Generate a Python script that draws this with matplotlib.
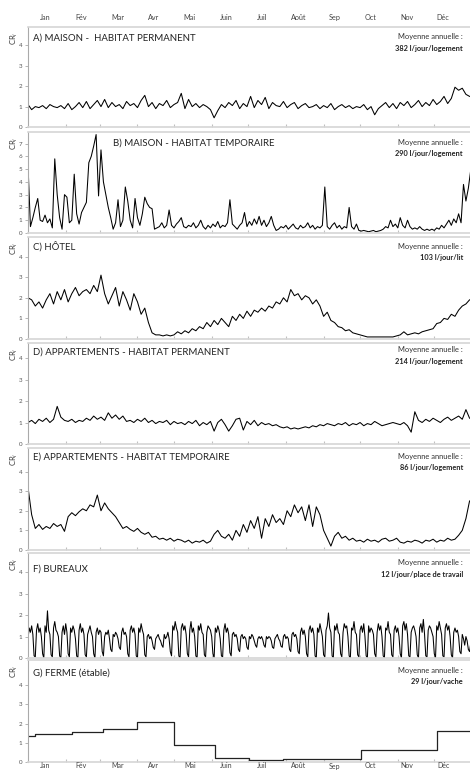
import numpy as np
import matplotlib
matplotlib.use('Agg')
import matplotlib.pyplot as plt

plt.rcParams['font.family'] = ['Lato', 'DejaVu Sans']

months = ['Jan', 'Fév', 'Mar', 'Avr', 'Mai', 'Juin', 'Juil', 'Août', 'Sep', 'Oct', 'Nov', 'Déc']
month_starts = [31, 59, 90, 120, 151, 181, 212, 243, 273, 304, 334]

titles = ['A) MAISON -  HABITAT PERMANENT', 'B) MAISON - HABITAT TEMPORAIRE', 'C) HÔTEL',
          'D) APPARTEMENTS - HABITAT PERMANENT', 'E) APPARTEMENTS - HABITAT TEMPORAIRE',
          'F) BUREAUX', 'G) FERME (étable)']
moyennes = ['382 l/jour/logement', '290 l/jour/logement', '103 l/jour/lit', '214 l/jour/logement',
            '86 l/jour/logement', '12 l/jour/place de travail', '29 l/jour/vache']

# A) maison permanent - une valeur tous les 3 jours
cr_maison_perm = [
    1.1, 0.85, 1.0, 0.95, 1.05, 0.9, 1.1, 1.0, 0.95, 1.05,
    0.9, 1.15, 0.85, 1.0, 1.2, 0.95, 1.25, 0.9, 1.1, 1.3,
    1.0, 1.35, 0.95, 1.2, 1.0, 1.1, 0.9, 1.25, 1.05, 1.15,
    0.95, 1.3, 1.55, 1.0, 1.2, 0.9, 1.15, 1.05, 1.3, 0.95,
    1.1, 1.2, 1.65, 0.9, 1.35, 1.0, 1.15, 0.95, 1.1, 1.0,
    0.85, 0.45, 0.8, 1.1, 0.95, 1.2, 1.05, 1.3, 0.9, 1.15,
    1.0, 1.5, 0.95, 1.3, 1.1, 1.45, 0.9, 1.2, 1.05, 1.0,
    1.25, 0.95, 1.1, 1.2, 0.9, 1.05, 1.15, 0.95, 1.0, 1.1,
    0.9, 1.05, 0.95, 1.15, 0.85, 1.0, 1.1, 0.95, 1.05, 0.9,
    1.0, 0.95, 1.1, 0.85, 1.0, 0.6, 0.9, 1.05, 1.2, 0.95,
    1.15, 0.9, 1.2, 1.05, 1.25, 0.95, 1.1, 1.3, 1.0, 1.2,
    1.05, 1.35, 1.1, 1.25, 1.5, 1.15, 1.4, 1.95, 1.8, 1.9,
    1.6, 1.5]

# B) maison temporaire - une valeur tous les 2 jours
cr_maison_temp = [
    5.3, 0.5, 1.2, 2.0, 2.7, 1.0, 0.9, 1.4, 0.8, 1.1,
    0.4, 5.8, 3.0, 1.2, 0.3, 3.0, 2.8, 0.8, 1.0, 4.6,
    1.5, 0.7, 1.6, 2.0, 2.4, 5.5, 6.0, 6.8, 7.7, 2.9,
    6.5, 4.0, 3.0, 2.0, 1.2, 0.3, 0.8, 2.6, 0.5, 1.0,
    3.6, 2.5, 1.0, 0.4, 2.7, 1.2, 0.6, 1.5, 2.8, 2.3,
    2.0, 1.9, 0.3, 0.4,
    0.5, 0.8, 0.4, 0.6, 1.8, 0.6, 0.4, 0.7, 0.9, 1.2,
    0.5, 0.4, 0.6, 0.5, 0.8, 0.4, 0.6, 1.0, 0.5, 0.3,
    0.6, 0.4, 0.7, 0.5, 0.9, 0.4, 0.6, 0.5, 0.8, 2.6,
    0.7, 0.5, 0.3, 0.6, 0.8, 1.6, 0.5, 0.9, 0.6, 1.1,
    0.7, 1.3, 0.6, 1.0, 0.5, 0.8, 1.3, 0.6, 0.2, 0.3,
    0.5, 0.4, 0.6, 0.3, 0.5, 0.7, 0.4, 0.3, 0.6, 0.4,
    0.5, 0.8, 0.4, 0.6, 0.3, 0.5, 0.4, 0.6, 3.6, 0.5,
    0.3, 0.6, 0.8, 0.4, 0.6, 0.3, 0.5, 0.4, 2.0, 0.5,
    0.3, 0.7, 0.2, 0.15, 0.2, 0.15, 0.1, 0.15, 0.2, 0.1,
    0.15, 0.2, 0.3, 0.5, 0.4, 1.0, 0.5, 0.7, 0.4, 1.2,
    0.6, 0.4, 1.0, 0.5, 0.3, 0.4, 0.3, 0.5, 0.3, 0.2,
    0.3, 0.2, 0.3, 0.2, 0.4, 0.3, 0.6, 0.4, 0.7, 1.0,
    0.6, 1.1, 0.8, 1.5, 0.8, 3.8, 2.5, 3.5, 5.0, 6.0]

# C) hôtel - tous les 3 jours
cr_hotel = [
    2.0, 1.9, 1.6, 1.8, 1.5, 1.9, 2.2, 1.7, 2.3, 1.9,
    2.4, 1.8, 2.2, 2.5, 2.1, 2.3, 2.4, 2.2, 2.6, 2.3,
    3.1, 2.2, 1.7, 2.1, 2.5, 1.6, 2.3, 1.9, 1.4, 2.2,
    1.8, 1.2, 1.5, 0.8, 0.3, 0.2, 0.2, 0.15, 0.2, 0.15,
    0.2, 0.35, 0.25, 0.4, 0.3, 0.5, 0.4, 0.6, 0.5, 0.8,
    0.6, 0.9, 0.7, 1.0, 0.8, 0.6, 1.1, 0.9, 1.2, 1.0,
    1.35, 1.1, 1.4, 1.3, 1.5, 1.35, 1.6, 1.5, 1.8, 1.7,
    2.0, 1.8, 2.4, 2.1, 2.2, 1.9, 2.1, 2.0, 1.7, 1.9,
    1.6, 1.1, 1.3, 0.9, 0.8, 0.6, 0.55, 0.4, 0.45, 0.3,
    0.25, 0.2, 0.15, 0.1, 0.1, 0.1, 0.1, 0.1, 0.1, 0.1,
    0.1, 0.15, 0.2, 0.35, 0.2, 0.25, 0.3, 0.25, 0.35, 0.4,
    0.45, 0.5, 0.75, 0.8, 1.0, 0.95, 1.2, 1.1, 1.4, 1.6,
    1.7, 1.9]

# D) appartements permanent - tous les 3 jours
cr_appart_perm = [
    1.0, 1.1, 0.95, 1.15, 1.05, 1.2, 1.0, 1.15, 1.75, 1.25,
    1.1, 1.05, 1.15, 1.0, 1.1, 1.05, 1.2, 1.1, 1.3, 1.15,
    1.25, 1.1, 1.45, 1.2, 1.35, 1.15, 1.3, 1.05, 1.1, 1.0,
    1.15, 1.05, 1.2, 1.0, 1.1, 0.95, 1.05, 1.0, 1.1, 0.9,
    1.05, 0.95, 1.0, 0.9, 1.05, 0.95, 1.1, 0.85, 1.0, 0.9,
    1.05, 0.6, 1.0, 1.15, 0.9, 0.6, 0.85, 1.15, 1.2, 0.65,
    1.05, 0.9, 1.1, 0.85, 1.0, 0.9, 0.95, 0.85, 0.9, 0.8,
    0.75, 0.8, 0.7, 0.75, 0.7, 0.75, 0.8, 0.75, 0.85, 0.8,
    0.9, 0.85, 0.95, 0.9, 0.85, 0.95, 0.9, 1.0, 0.85, 0.95,
    0.9, 1.0, 0.85, 0.95, 0.9, 1.05, 0.95, 0.85, 0.9, 0.95,
    1.0, 0.95, 0.9, 1.0, 0.85, 0.55, 1.5, 1.1, 1.0, 1.15,
    1.05, 1.2, 1.1, 1.0, 1.15, 1.25, 1.1, 1.2, 1.3, 1.15,
    1.6, 1.2]

# E) appartements temporaire - tous les 3 jours
cr_appart_temp = [
    3.2, 1.8, 1.1, 1.3, 1.05, 1.2, 1.1, 1.35, 1.2, 1.3,
    0.95, 1.7, 1.9, 1.75, 1.95, 2.1, 2.0, 2.3, 2.2, 2.8,
    2.0, 2.4, 2.1, 1.9, 1.7, 1.4, 1.1, 1.2, 1.05, 0.95,
    1.1, 0.9, 0.8, 0.9, 0.65, 0.7, 0.55, 0.6, 0.5, 0.6,
    0.45, 0.55, 0.5, 0.4, 0.5, 0.35, 0.45, 0.4, 0.5, 0.35,
    0.45, 0.8, 1.0, 0.7, 0.6, 0.8, 0.5, 1.0, 0.7, 1.3,
    0.9, 1.5, 1.1, 1.7, 0.6, 1.6, 1.2, 1.8, 1.4, 1.6,
    1.3, 2.0, 1.7, 2.3, 1.9, 2.2, 1.5, 2.3, 1.2, 2.2,
    1.8, 1.0, 0.6, 0.2, 0.7, 0.9, 0.6, 0.7, 0.5, 0.6,
    0.45, 0.5, 0.4, 0.55, 0.45, 0.5, 0.4, 0.55, 0.6, 0.45,
    0.5, 0.6, 0.4, 0.35, 0.45, 0.4, 0.5, 0.45, 0.35, 0.5,
    0.45, 0.55, 0.4, 0.5, 0.45, 0.6, 0.5, 0.55, 0.75, 1.0,
    1.6, 2.5]

# F) bureaux - valeurs journalieres, une ligne par semaine
cr_bureaux = [
    0.9, 1.4, 1.2, 1.5, 1.1, 0.1, 0.05,
    1.3, 1.6, 1.2, 1.4, 1.0, 0.2, 0.0,
    1.5, 1.2, 2.2, 1.3, 1.1, 0.15, 0.05,
    1.4, 1.7, 1.3, 1.2, 1.0, 0.1, 0.0,
    1.2, 1.5, 1.1, 1.6, 1.2, 0.2, 0.05,
    1.4, 1.2, 1.5, 1.3, 0.9, 0.1, 0.0,
    1.3, 1.6, 1.2, 1.4, 1.1, 0.15, 0.05,
    1.1, 1.3, 1.5, 1.2, 1.0, 0.2, 0.0,
    1.2, 1.4, 1.1, 1.3, 1.2, 0.3, 0.1,
    1.0, 1.2, 1.1, 1.3, 0.9, 0.4, 0.3,
    1.1, 1.0, 1.2, 1.1, 0.9, 0.5, 0.4,
    1.2, 1.4, 1.1, 1.2, 1.0, 0.2, 0.05,
    1.3, 1.5, 1.2, 1.4, 1.1, 0.1, 0.0,
    1.4, 1.2, 1.6, 1.3, 1.1, 0.15, 0.05,
    1.0, 1.1, 0.9, 1.0, 0.8, 0.5, 0.4,
    0.9, 1.0, 1.1, 0.9, 0.8, 0.6, 0.5,
    1.1, 0.9, 1.0, 1.2, 0.9, 0.3, 0.1,
    1.5, 1.3, 1.7, 1.4, 1.2, 0.1, 0.0,
    1.4, 1.6, 1.3, 1.5, 1.1, 0.2, 0.05,
    1.3, 1.7, 1.2, 1.4, 1.0, 0.1, 0.0,
    1.5, 1.3, 1.6, 1.2, 1.1, 0.15, 0.05,
    1.2, 1.5, 1.4, 1.3, 1.0, 0.2, 0.0,
    1.4, 1.2, 1.5, 1.3, 0.9, 0.1, 0.05,
    1.3, 1.6, 1.2, 1.4, 1.1, 0.25, 0.1,
    1.1, 1.2, 1.0, 1.1, 0.9, 0.4, 0.3,
    1.0, 1.1, 0.9, 1.0, 0.9, 0.5, 0.4,
    1.0, 0.9, 1.1, 1.0, 0.8, 0.6, 0.5,
    0.9, 1.0, 0.9, 1.0, 0.85, 0.6, 0.5,
    1.0, 0.9, 1.0, 0.95, 0.8, 0.5, 0.45,
    0.9, 1.0, 1.1, 0.9, 0.8, 0.55, 0.5,
    1.0, 1.1, 0.9, 1.0, 0.9, 0.4, 0.3,
    1.1, 1.2, 1.0, 1.1, 0.9, 0.3, 0.2,
    1.2, 1.4, 1.1, 1.3, 1.0, 0.2, 0.05,
    1.3, 1.5, 1.2, 1.4, 1.1, 0.1, 0.0,
    1.4, 1.2, 1.6, 1.3, 1.0, 0.15, 0.05,
    1.3, 1.5, 2.1, 1.4, 1.2, 0.1, 0.0,
    1.5, 1.3, 1.6, 1.2, 1.1, 0.2, 0.05,
    1.2, 1.6, 1.4, 1.5, 1.0, 0.1, 0.0,
    1.4, 1.3, 1.7, 1.2, 1.1, 0.15, 0.05,
    1.3, 1.5, 1.2, 1.6, 1.0, 0.1, 0.0,
    1.5, 1.2, 1.4, 1.3, 1.1, 0.2, 0.05,
    1.2, 1.6, 1.3, 1.5, 1.0, 0.1, 0.0,
    1.4, 1.3, 1.7, 1.2, 1.1, 0.15, 0.05,
    1.3, 1.5, 1.2, 1.4, 1.0, 0.2, 0.0,
    1.5, 1.7, 1.3, 1.6, 1.1, 0.1, 0.05,
    1.2, 1.4, 1.5, 1.3, 1.0, 0.15, 0.0,
    1.4, 1.6, 1.2, 1.8, 1.1, 0.1, 0.05,
    1.3, 1.5, 1.4, 1.2, 1.0, 0.2, 0.0,
    1.5, 1.3, 1.7, 1.4, 1.1, 0.1, 0.05,
    1.4, 1.6, 1.3, 1.5, 1.0, 0.15, 0.0,
    1.2, 1.4, 1.2, 1.3, 1.0, 0.3, 0.2,
    1.1, 0.9, 0.6, 1.0, 0.8, 0.4, 0.3,
    0.7]

# G) ferme - paliers (jour de debut, valeur)
ferme_debut = [0, 6, 36, 62, 90, 120, 154, 182, 210, 274, 336, 365]
ferme_cr = [1.33, 1.43, 1.55, 1.7, 2.1, 0.9, 0.2, 0.08, 0.13, 0.6, 1.6, 1.6]

series = [(cr_maison_perm, 3), (cr_maison_temp, 2), (cr_hotel, 3), (cr_appart_perm, 3),
          (cr_appart_temp, 3), (cr_bureaux, 1)]

W, H = 470, 771
zero_px = [127, 233, 339, 444, 550, 658, 762]
top_px = [27, 132, 237, 343, 448, 553, 660]
ymax = [4.9, 7.9, 4.95, 4.7, 5.2, 4.9, 5.3]
title_y = [38, 143, 246, 352, 457, 569, 673]
title_x = [33, 113, 33, 33, 33, 33, 33]
moy_y = [37, 142, 246, 350, 456, 563, 670]

fig = plt.figure(figsize=(W / 100, H / 100), dpi=100)

for i in range(7):
    z, t = zero_px[i], top_px[i]
    ax = fig.add_axes([28 / W, 1 - z / H, 444 / W, (z - t) / H])
    if i < 6:
        vals, step = series[i]
        ax.plot(np.arange(len(vals)) * step, vals, color='black', lw=0.75)
    else:
        ax.step(ferme_debut, ferme_cr, where='post', color='#222222', lw=0.9)
    ax.set_xlim(0, 365)
    ax.set_ylim(0, ymax[i])
    ax.set_yticks(range(8) if i == 1 else range(5))
    ax.set_xticks(month_starts)
    ax.tick_params(axis='x', length=2, direction='in', color='#c0c0c0', labelbottom=False)
    ax.tick_params(axis='y', length=2, width=0.5, color='#999999', labelsize=4.5,
                   labelcolor='#555555', pad=2.0)
    for s in ['top', 'right', 'bottom']:
        ax.spines[s].set_color('#d6d6d6')
        ax.spines[s].set_linewidth(1.2)
    ax.spines['left'].set_color('#aaaaaa')
    ax.spines['left'].set_linewidth(0.8)

    fig.text(title_x[i] / W, 1 - title_y[i] / H, titles[i], fontsize=6.9, color='#222222',
             va='center', ha='left')
    fig.text(463 / W, 1 - moy_y[i] / H, 'Moyenne annuelle :', fontsize=5.4, color='#333333',
             va='center', ha='right')
    fig.text(463 / W, 1 - (moy_y[i] + 11.5) / H, moyennes[i], fontsize=5.3, color='#222222',
             fontweight='bold', va='center', ha='right')
    fig.text(14 / W, 1 - (t + 11) / H, 'CR$_i$', fontsize=5.5, color='#333333', rotation=90,
             va='center', ha='center')

# mois en haut et en bas
for k, m in enumerate(months):
    fig.text((45 + 36.2 * k) / W, 1 - 20 / H, m, fontsize=5.2, color='#444444', ha='center', va='baseline')
    fig.text((45 + 36.2 * k) / W, 1 - 768.5 / H, m, fontsize=5.0, color='#444444', ha='center', va='baseline')

fig.savefig('out.png', dpi=100)
